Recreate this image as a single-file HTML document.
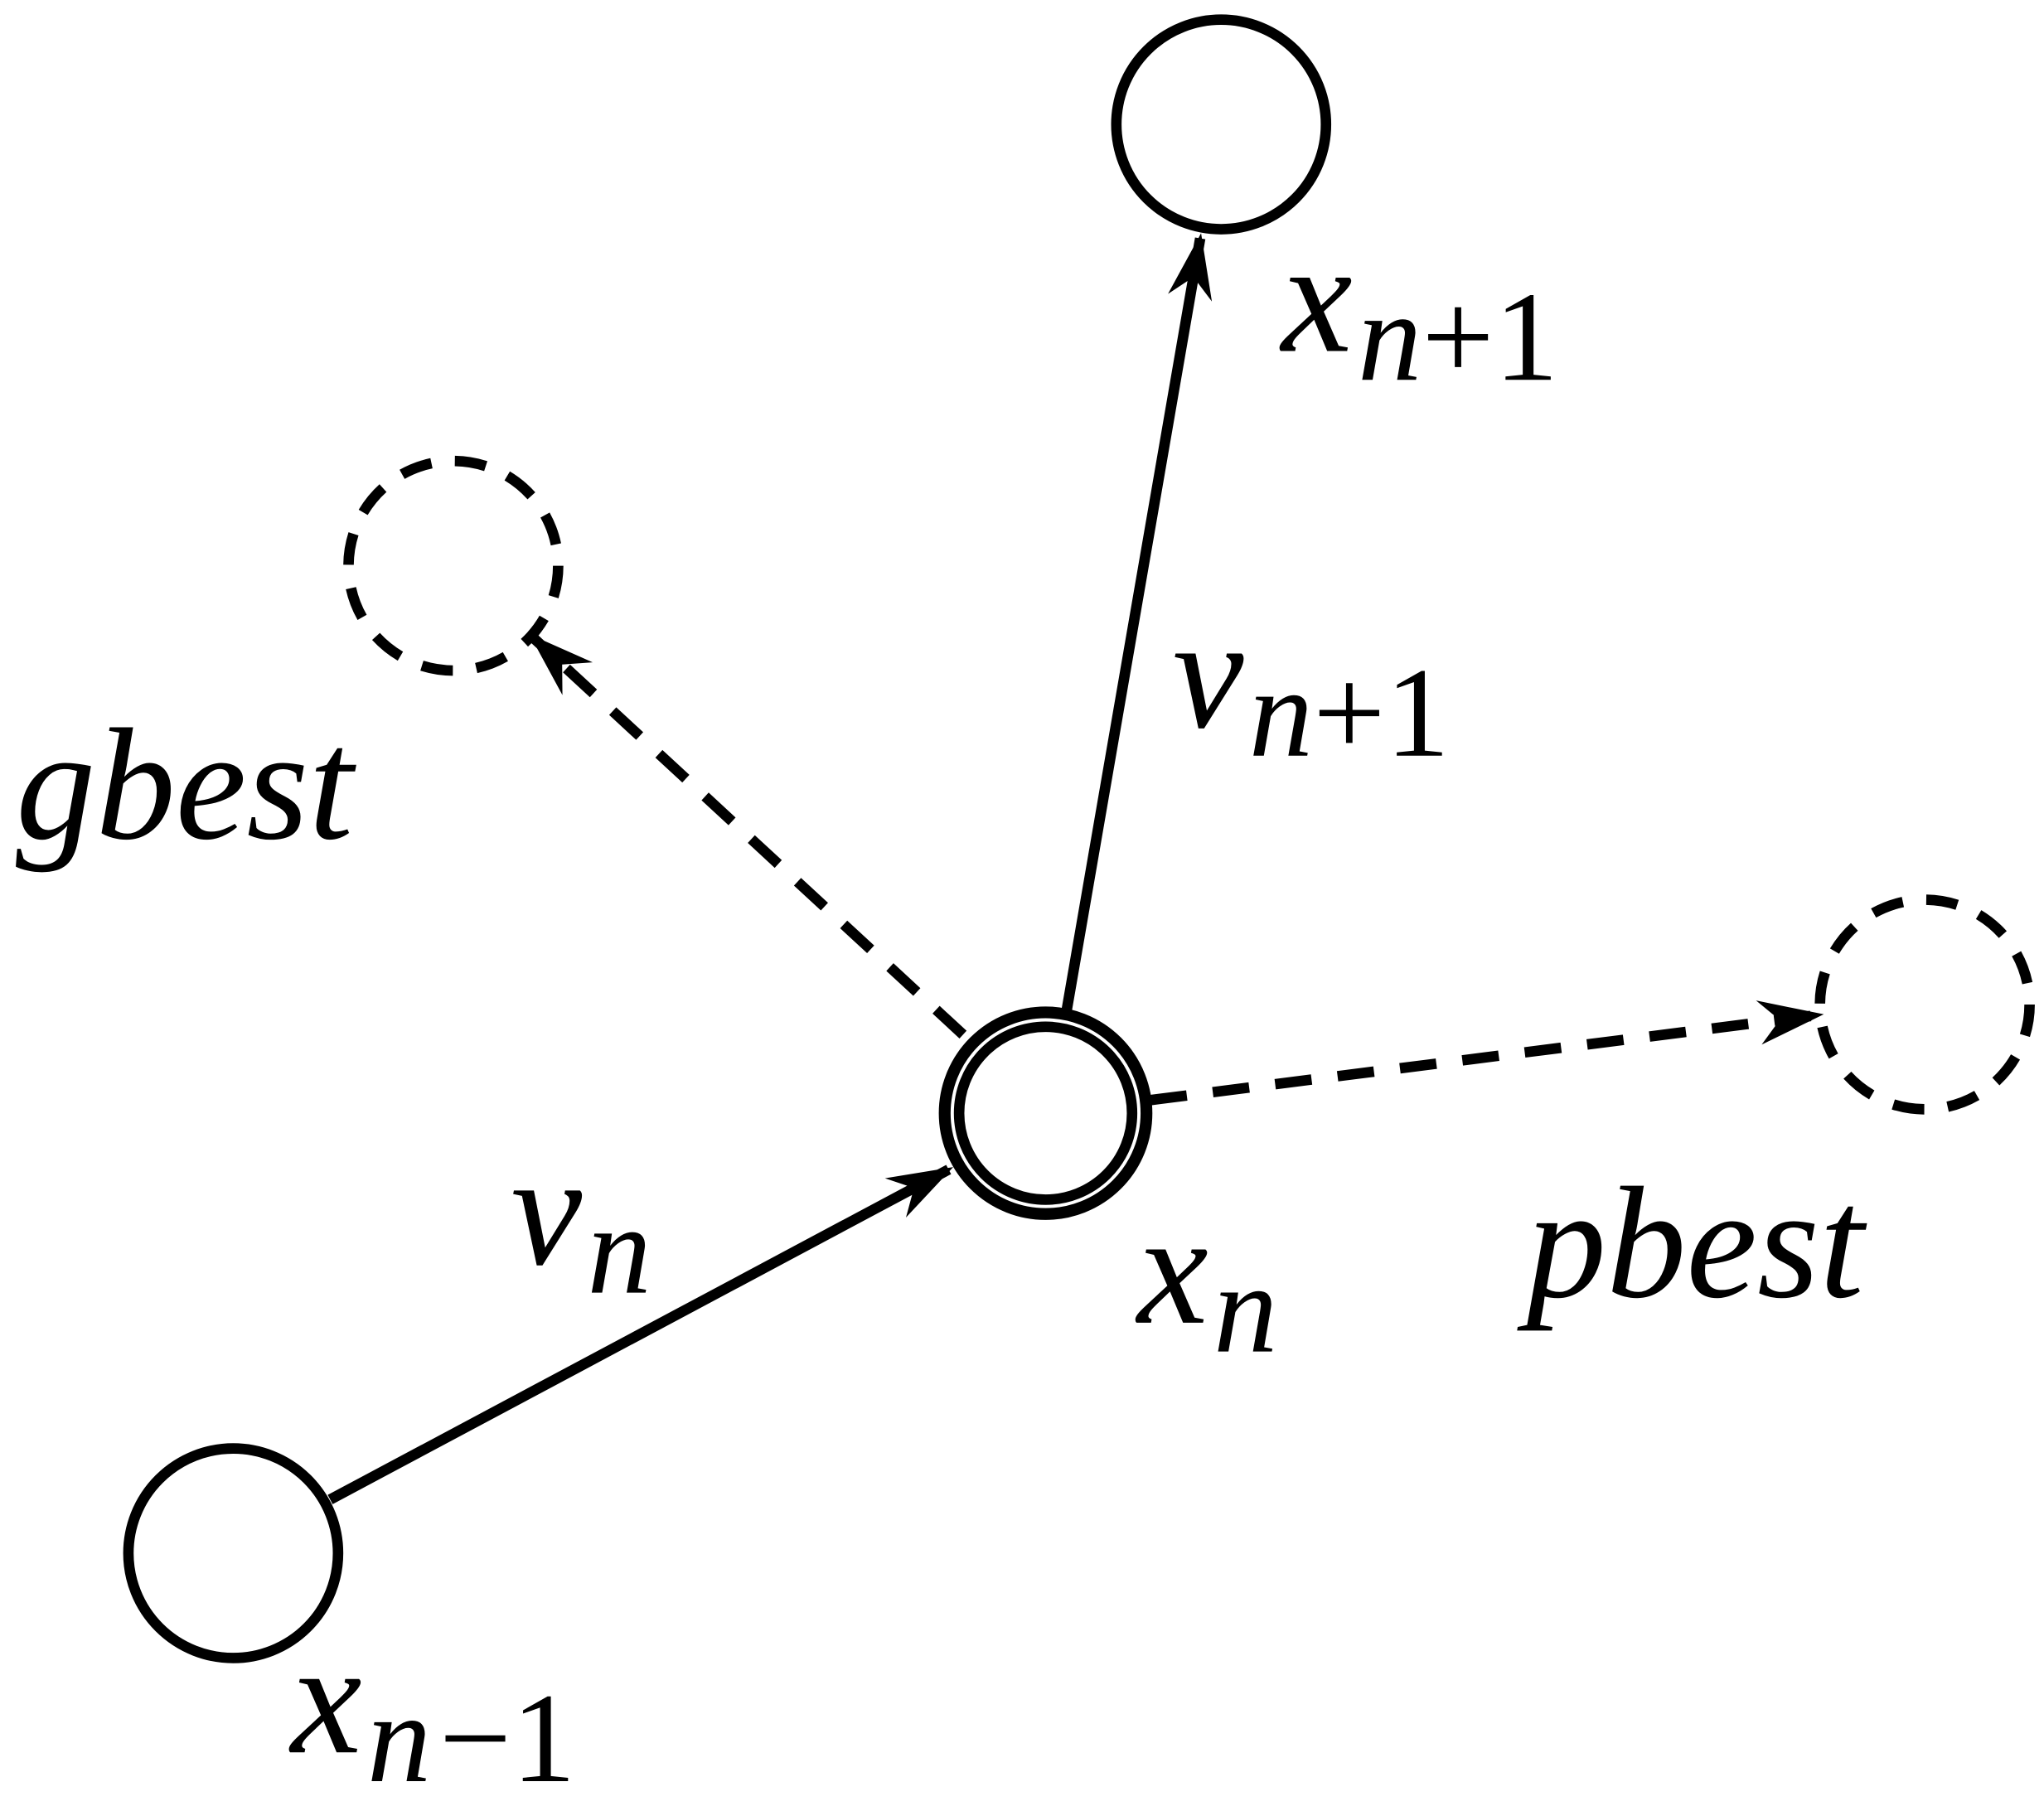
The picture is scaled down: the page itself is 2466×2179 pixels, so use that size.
<!DOCTYPE html>
<html><head><style>html,body{margin:0;padding:0;background:#fff;overflow:hidden}svg{display:block}</style></head>
<body>
<svg width="2466" height="2179" viewBox="0 0 1560 1379" preserveAspectRatio="none" xmlns="http://www.w3.org/2000/svg">
<defs>
<marker id="a" markerUnits="userSpaceOnUse" markerWidth="80" markerHeight="80" viewBox="-60 -40 80 80" refX="0" refY="0" orient="auto">
<path d="M4,0 L-46,-17 L-30,0 L-46,17 Z" fill="#000"/>
</marker>
</defs>
<g fill="none" stroke="#000" stroke-width="8">
<circle cx="932" cy="95" r="80"/>
<circle cx="178" cy="1186" r="80"/>
<circle cx="346" cy="432" r="80" stroke-dasharray="24,18"/>
<circle cx="1469" cy="767" r="80" stroke-dasharray="24,18"/>
<circle cx="798" cy="850" r="77" stroke-width="9"/>
<circle cx="798" cy="850" r="66" stroke-width="8"/>
<line x1="814" y1="772" x2="916" y2="182" marker-end="url(#a)"/>
<line x1="252" y1="1145" x2="724" y2="893" marker-end="url(#a)"/>
<line x1="735" y1="790" x2="407" y2="487" stroke-dasharray="28,20" marker-end="url(#a)"/>
<line x1="878" y1="840" x2="1388" y2="775" stroke-dasharray="28,20" marker-end="url(#a)"/>
</g>
<g font-family="'Liberation Serif', serif" font-style="italic" fill="#000">
<text x="978" y="268" font-size="122">x<tspan font-size="98" dy="22" dx="4">n</tspan><tspan font-style="normal" font-size="98">+1</tspan></text>
<text x="895" y="555" font-size="122">v<tspan font-size="98" dy="22" dx="4">n</tspan><tspan font-style="normal" font-size="98">+1</tspan></text>
<text x="12" y="640" font-size="122">gbest</text>
<text x="1165" y="990" font-size="122">pbest</text>
<text x="390" y="965" font-size="122">v<tspan font-size="98" dy="22" dx="4">n</tspan></text>
<text x="868" y="1010" font-size="122">x<tspan font-size="98" dy="22" dx="4">n</tspan></text>
<text x="222" y="1338" font-size="122">x<tspan font-size="98" dy="22" dx="4">n</tspan><tspan font-style="normal" font-size="98" dx="6">−1</tspan></text>
</g>
</svg>
</body></html>
